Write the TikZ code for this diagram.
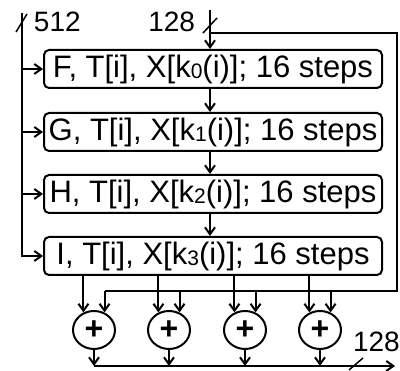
\documentclass[tikz,border=0pt]{standalone}
\usepackage{fontspec}
\setmainfont{Liberation Sans}
\usetikzlibrary{arrows.meta,shapes.geometric}
\newcommand{\ksub}[1]{\raisebox{-1.5pt}{\fontsize{21}{21}\selectfont #1}}
\tikzset{
  stage/.style={draw,rounded corners=5pt,minimum width=338pt,minimum height=38pt,inner sep=0pt,font=\fontsize{31}{31}\selectfont},
  adder/.style={draw,ellipse,minimum width=42pt,minimum height=38pt,inner sep=0pt,font=\fontsize{32}{32}\selectfont\bfseries},
  lbl/.style={inner sep=0pt,font=\fontsize{28}{28}\selectfont},
}
\begin{document}
\begin{tikzpicture}[x=1pt,y=1pt,line width=2pt,>={Straight Barb[length=7pt,width=10pt]}]
			\useasboundingbox (0,0) rectangle (400,371);
			\node[stage] (F) at (213,302) {F, T[i], X[k\ksub{0}(i)]; 16 steps};
			\node[stage] (G) at (213,239) {G, T[i], X[k\ksub{1}(i)]; 16 steps};
			\node[stage] (H) at (213,177) {H, T[i], X[k\ksub{2}(i)]; 16 steps};
			\node[stage] (I) at (213,115) {I, T[i], X[k\ksub{3}(i)]; 16 steps};
			\node[adder] (a1) at (94,41) {+};
			\node[adder] (a2) at (169,41) {+};
			\node[adder] (a3) at (245,41) {+};
			\node[adder] (a4) at (320,41) {+};
			\coordinate (in512) at (22,358);
			\coordinate (in128) at (210,361);
			\coordinate (fbtop) at (397,338);
			\coordinate (fbbot) at (397,80);
			\coordinate (out) at (395,5);
			\node[lbl,anchor=base west] (w512) at (33,339) {512};
			\node[lbl,anchor=base east] (w128) at (196,339) {128};
			\node[lbl,anchor=base west] (o128) at (352,19) {128};
			% inputs
			\draw[->] (in512) |- (I.west);
			\foreach \b in {F,G,H}
				\draw[->] (in512 |- \b.west) -- (\b.west);
			\draw[->] (in128) -- (in128 |- F.north);
			\draw[->] (in128 |- F.south) -- (in128 |- G.north);
			\draw[->] (in128 |- G.south) -- (in128 |- H.north);
			\draw[->] (in128 |- H.south) -- (in128 |- I.north);
			\draw[line width=1.5pt] (16,339) -- (27,357);
			\draw[line width=1.5pt] (203,338) -- (217,353);
			% feedforward
			\draw (in128 |- fbtop) -- (fbtop) -- (fbbot) -- (a1.59 |- fbbot);
			\foreach \a in {a1,a2,a3,a4} {
				\draw[->] (\a.121 |- I.south) -- (\a.121);
				\draw[->] (\a.59 |- fbbot) -- (\a.59);
				\draw[->] (\a.south) -- (\a.south |- out);
			}
			\draw[->] (a1.south |- out) -- (out);
			\draw[line width=1.5pt] (349,1) -- (363,13);
		\end{tikzpicture}
\end{document}
